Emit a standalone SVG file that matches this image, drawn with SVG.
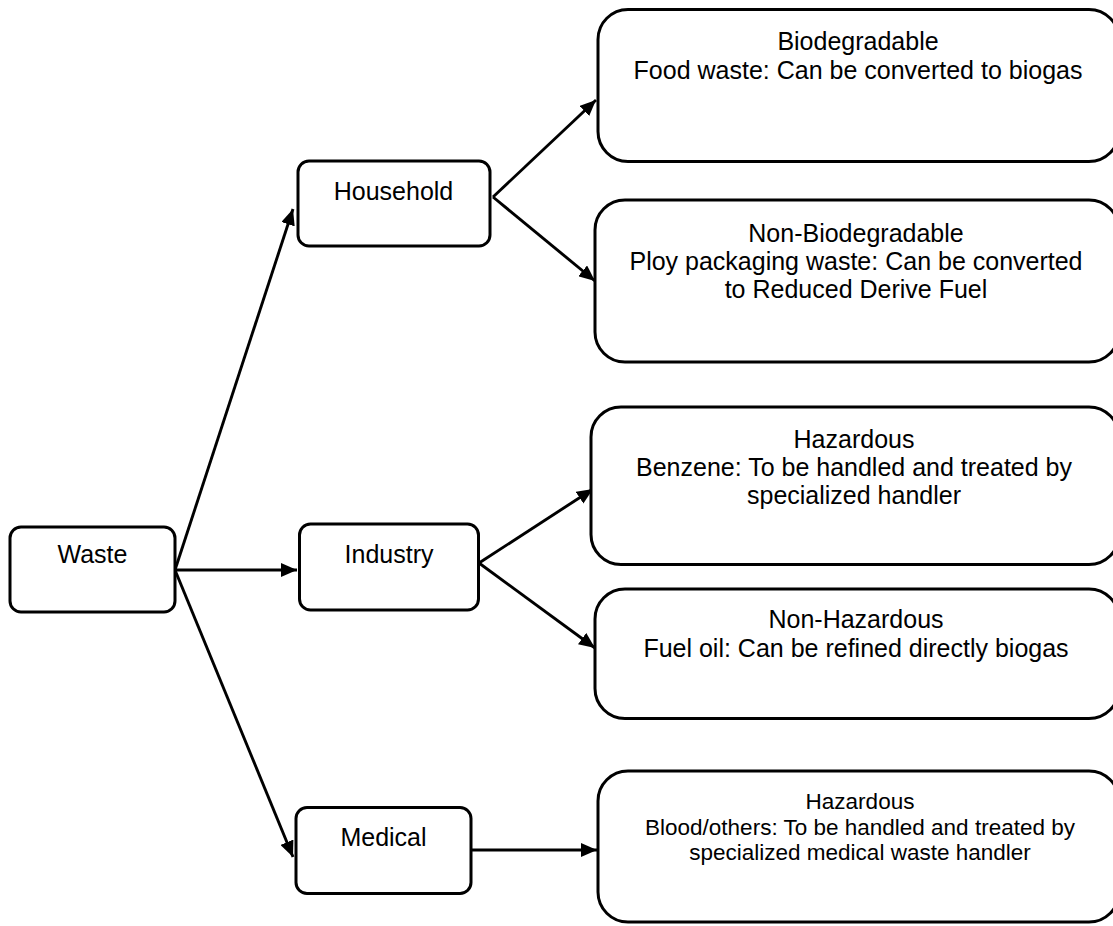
<svg xmlns="http://www.w3.org/2000/svg" width="1113" height="926" viewBox="0 0 1113 926">
<defs>
<marker id="arr" markerUnits="userSpaceOnUse" markerWidth="17" markerHeight="14" refX="16" refY="7" orient="auto">
<path d="M0,0 L16,7 L0,14 z" fill="#000"/>
</marker>
<style>
.n{fill:#fff;stroke:#000;stroke-width:3}
.t{font-family:"Liberation Sans",Arial,sans-serif;font-size:25px;fill:#000;text-anchor:middle}
.s{font-size:22.5px}
.c{stroke:#000;stroke-width:2.9;fill:none;marker-end:url(#arr)}
</style>
</defs>
<rect width="1113" height="926" fill="#fff"/>
<g id="connectors">
<line class="c" x1="175" y1="570" x2="293" y2="209"/>
<line class="c" x1="175" y1="570" x2="297" y2="570"/>
<line class="c" x1="175" y1="570" x2="293" y2="857"/>
<line class="c" x1="493" y1="197" x2="596" y2="100"/>
<line class="c" x1="493" y1="197" x2="595" y2="281"/>
<line class="c" x1="479" y1="563" x2="593" y2="489"/>
<line class="c" x1="479" y1="563" x2="595" y2="648"/>
<line class="c" x1="466" y1="850" x2="597" y2="850"/>
</g>
<g id="waste">
<rect class="n" x="10" y="527" width="165" height="85" rx="11"/>
<text class="t" x="92.5" y="563">Waste</text>
</g>
<g id="household">
<rect class="n" x="298" y="161" width="192" height="85" rx="11"/>
<text class="t" x="393.5" y="200">Household</text>
</g>
<g id="industry">
<rect class="n" x="299.5" y="524" width="179" height="86" rx="11"/>
<text class="t" x="389" y="563">Industry</text>
</g>
<g id="medical">
<rect class="n" x="296" y="807.5" width="175" height="86" rx="11"/>
<text class="t" x="383.5" y="846">Medical</text>
</g>
<g id="biodegradable">
<rect class="n" x="598" y="9.5" width="521" height="152" rx="30"/>
<text class="t" x="858" y="50">Biodegradable</text>
<text class="t" x="858" y="79">Food waste: Can be converted to biogas</text>
</g>
<g id="non-biodegradable">
<rect class="n" x="595" y="200" width="524" height="162" rx="30"/>
<text class="t" x="856" y="241.5">Non-Biodegradable</text>
<text class="t" x="856" y="270">Ploy packaging waste: Can be converted</text>
<text class="t" x="856" y="298">to Reduced Derive Fuel</text>
</g>
<g id="hazardous-industry">
<rect class="n" x="591" y="407" width="528" height="157.5" rx="30"/>
<text class="t" x="854" y="448">Hazardous</text>
<text class="t" x="854" y="476">Benzene: To be handled and treated by</text>
<text class="t" x="854" y="504">specialized handler</text>
</g>
<g id="non-hazardous">
<rect class="n" x="595" y="589" width="524" height="129.5" rx="30"/>
<text class="t" x="856" y="628">Non-Hazardous</text>
<text class="t" x="856" y="657">Fuel oil: Can be refined directly biogas</text>
</g>
<g id="hazardous-medical">
<rect class="n" x="598" y="771" width="521" height="151" rx="30"/>
<text class="t s" x="860" y="809">Hazardous</text>
<text class="t s" x="860" y="835">Blood/others: To be handled and treated by</text>
<text class="t s" x="860" y="860">specialized medical waste handler</text>
</g>
</svg>
